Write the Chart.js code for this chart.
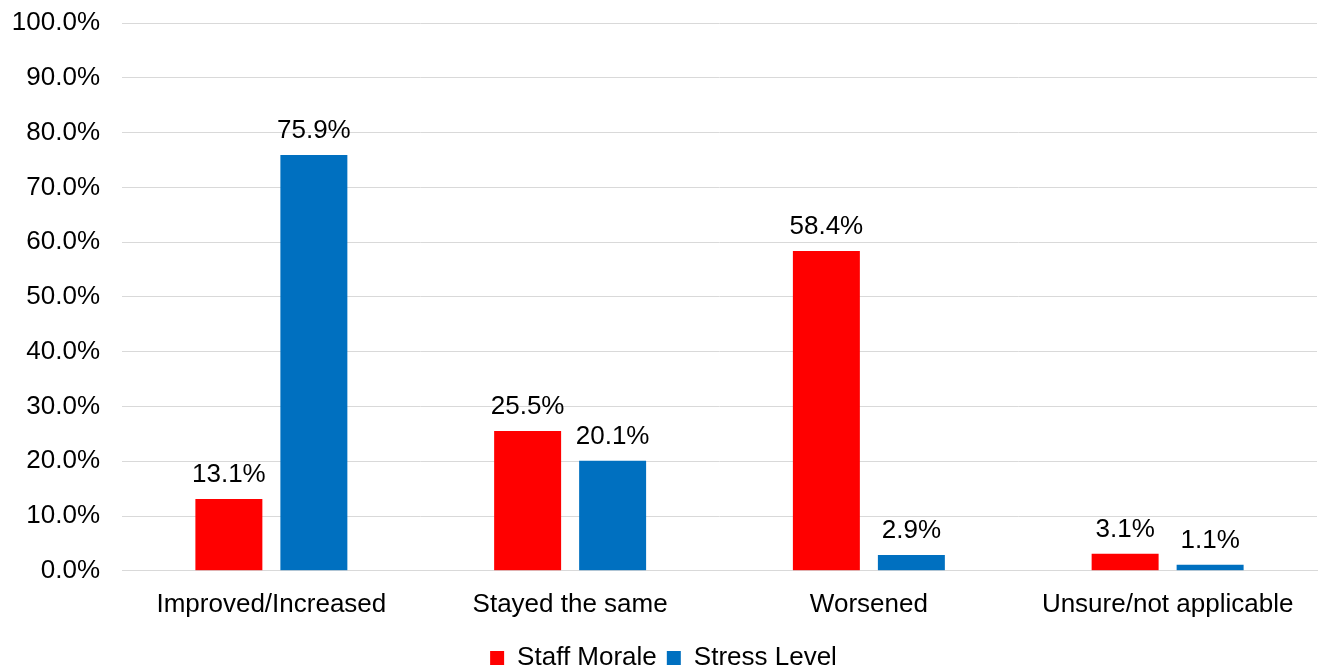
<!DOCTYPE html>
<html>
<head>
<meta charset="utf-8">
<script src="https://cdn.jsdelivr.net/npm/chart.js@4"></script>
<style>
  body { margin: 0; background: #fff; }
  #wrap { width: 1325px; height: 668px; }
</style>
</head>
<body>
<div id="wrap"><canvas id="myChart" width="1325" height="668"></canvas></div>
<script>
const categories = ['Improved/Increased', 'Stayed the same', 'Worsened', 'Unsure/not applicable'];
const staffMorale = [13.1, 25.5, 58.4, 3.1];
const stressLevel = [75.9, 20.1, 2.9, 1.1];

// draws the value above each bar
const valueLabels = {
    id: 'valueLabels',
    afterDatasetsDraw(chart) {
        const ctx = chart.ctx;
        ctx.save();
        ctx.font = '26px "Liberation Sans", Arial, sans-serif';
        ctx.fillStyle = '#000';
        ctx.textAlign = 'center';
        ctx.textBaseline = 'bottom';
        chart.data.datasets.forEach(function (ds, i) {
            chart.getDatasetMeta(i).data.forEach(function (bar, j) {
                ctx.fillText(ds.data[j].toFixed(1) + '%', bar.x, bar.y - 11);
            });
        });
        ctx.restore();
    }
};

document.addEventListener('DOMContentLoaded', function () {
    const ctx = document.getElementById('myChart').getContext('2d');
    Chart.defaults.font.family = '"Liberation Sans", Arial, sans-serif';
    Chart.defaults.font.size = 26;
    Chart.defaults.color = '#000';
    new Chart(ctx, {
        type: 'bar',
        data: {
            labels: categories,
            datasets: [{
                label: 'Staff Morale',
                data: staffMorale,
                backgroundColor: '#FF0000'
            }, {
                label: 'Stress Level',
                data: stressLevel,
                backgroundColor: '#0070C0'
            }]
        },
        options: {
            responsive: false,
            animation: false,
            categoryPercentage: 0.569,
            barPercentage: 0.788,
            layout: { padding: { top: 23, right: 8, left: 10, bottom: -13 } },
            plugins: {
                legend: {
                    position: 'bottom',
                    labels: { boxWidth: 14, boxHeight: 14, padding: 10 }
                },
                tooltip: { enabled: false }
            },
            scales: {
                x: {
                    grid: { display: false },
                    border: { color: '#D9D9D9' },
                    ticks: { padding: 10 },
                    afterFit: function (scale) { scale.height += 5; }
                },
                y: {
                    min: 0,
                    max: 100,
                    ticks: {
                        stepSize: 10,
                        padding: 22,
                        callback: function (v) { return v.toFixed(1) + '%'; }
                    },
                    grid: { color: '#D9D9D9', drawTicks: false },
                    border: { display: false },
                    afterFit: function (scale) {
                        scale.width = 112;
                        scale.paddingTop = 0;
                    }
                }
            }
        },
        plugins: [valueLabels]
    });
});
</script>
</body>
</html>
